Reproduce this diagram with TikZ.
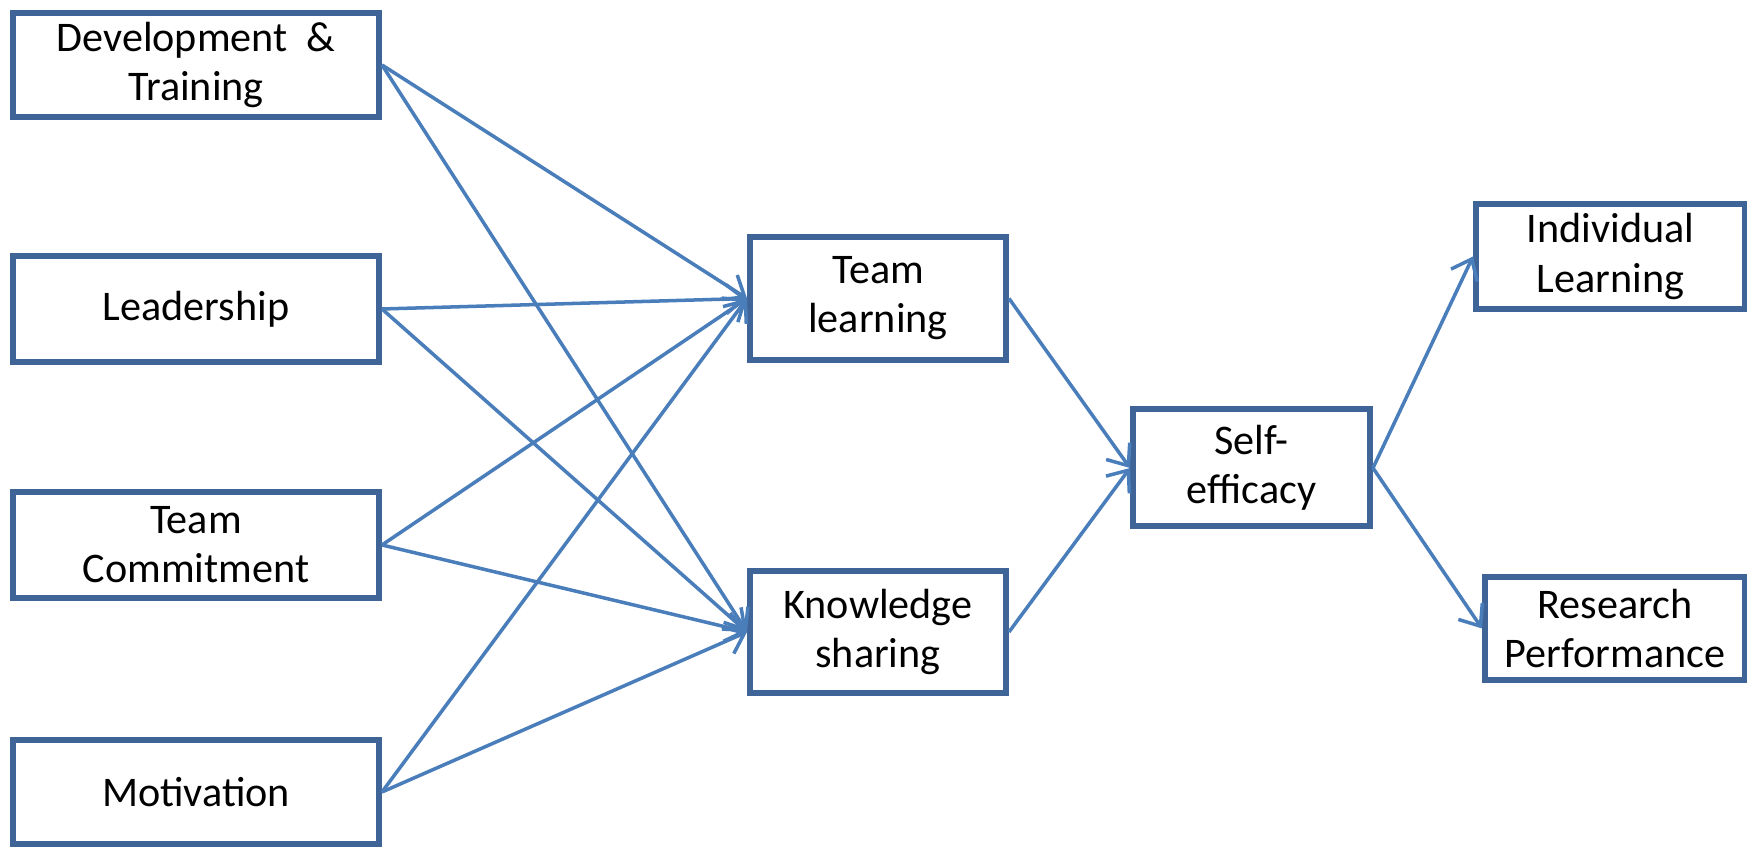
\documentclass[tikz,border=0pt]{standalone}
\usepackage{fontspec}
\setmainfont{Carlito}
\usepackage{tikz}
\usetikzlibrary{arrows.meta}

\definecolor{boxline}{HTML}{3F6598}
\definecolor{arrowline}{HTML}{4A7EBB}

\begin{document}
\begin{tikzpicture}[
        >={Straight Barb[length=1.8mm,width=2.9mm]},
        factor/.style={draw=boxline, line width=1.7pt, align=center, inner sep=0pt,
            font=\fontsize{12}{14}\selectfont},
        path/.style={->, arrowline, line width=1pt}
    ]
        \useasboundingbox (0,0) rectangle (17.47,8.47);

        % Input factors
        \node[factor, minimum width=3.66cm, minimum height=1.04cm] (dev) at (1.96,7.82) {Development \ \&\\Training};
        \node[factor, minimum width=3.66cm, minimum height=1.06cm] (lead) at (1.96,5.38) {Leadership};
        \node[factor, minimum width=3.66cm, minimum height=1.06cm] (comm) at (1.96,3.02) {Team\\Commitment};
        \node[factor, minimum width=3.66cm, minimum height=1.04cm] (motiv) at (1.96,0.55) {Motivation};

        % Mediators
        \node[factor, minimum width=2.56cm, minimum height=1.23cm] (teamlearn) at (8.78,5.485) {Team\\learning};
        \node[factor, minimum width=2.56cm, minimum height=1.22cm] (knowshare) at (8.78,2.15) {Knowledge\\sharing};
        \node[factor, minimum width=2.37cm, minimum height=1.17cm] (selfeff) at (12.515,3.79) {Self-\\efficacy};

        % Outcomes
        \node[factor, minimum width=2.69cm, minimum height=1.05cm] (indiv) at (16.105,5.905) {Individual\\Learning};
        \node[factor, minimum width=2.60cm, minimum height=1.03cm] (research) at (16.15,2.185) {Research\\Performance};

        % Draw the arrows
        \foreach \src in {dev,lead,comm,motiv}{
            \draw[path] (\src.east) -- (teamlearn.west);
            \draw[path] (\src.east) -- (knowshare.west);
        }
        \draw[path] (teamlearn.east) -- (selfeff.west);
        \draw[path] (knowshare.east) -- (selfeff.west);
        \draw[path] (selfeff.east) -- (indiv.west);
        \draw[path] (selfeff.east) -- (research.west);
\end{tikzpicture}
\end{document}
